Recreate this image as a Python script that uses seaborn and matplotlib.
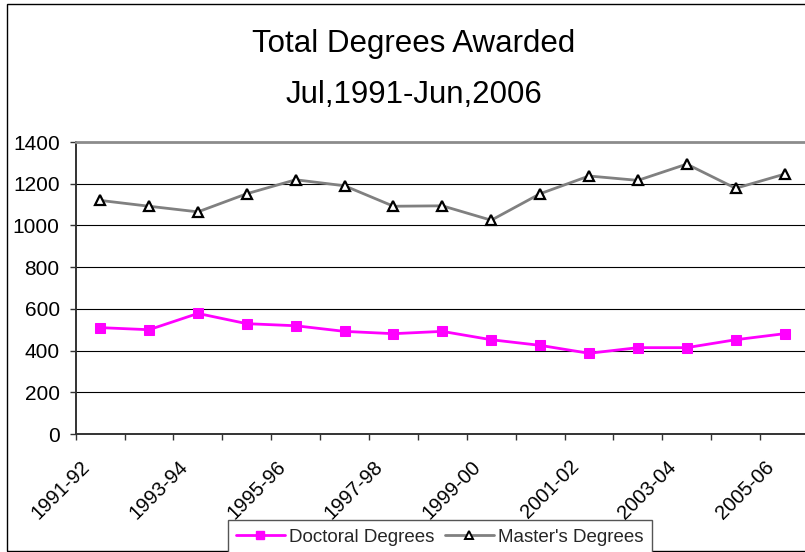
import matplotlib
matplotlib.use("Agg")
import matplotlib.pyplot as plt
from matplotlib.patches import Rectangle
from matplotlib.transforms import ScaledTranslation, blended_transform_factory
from matplotlib.lines import Line2D
import seaborn as sns
import pandas as pd
import numpy as np

# Academic years
years = ["1991-92", "1992-93", "1993-94", "1994-95", "1995-96", "1996-97",
         "1997-98", "1998-99", "1999-00", "2000-01", "2001-02", "2002-03",
         "2003-04", "2004-05", "2005-06"]

# Degrees awarded per year
doctoral = [510, 500, 578, 529, 519, 492, 481, 492, 452, 425, 387, 414, 414, 452, 481]
masters = [1120, 1092, 1065, 1152, 1219, 1190, 1092, 1094, 1025, 1152, 1237, 1216, 1294, 1178, 1246]

y_ticks = [0, 200, 400, 600, 800, 1000, 1200, 1400]
title_lines = ["Total Degrees Awarded", "Jul,1991-Jun,2006"]
series_names = ["Doctoral Degrees", "Master's Degrees"]

sns.set_theme(style="white")
plt.rcParams["font.family"] = ["Liberation Sans", "DejaVu Sans"]

W, H = 805, 552
fig = plt.figure(figsize=(W / 100, H / 100), dpi=100)
fig.patch.set_facecolor("white")

# Outer chart border (runs off the right edge)
fig.patches.append(Rectangle((7 / W, (H - 550.7) / H), 1.2, (550.7 - 3.7) / H,
                             transform=fig.transFigure, fill=False,
                             edgecolor="black", linewidth=1.0, zorder=0))

left, right, top, bottom = 75.7, 809.0, 142.0, 434.0
ax = fig.add_axes([left / W, (H - bottom) / H, (right - left) / W, (bottom - top) / H])
ax.set_facecolor("white")

df = pd.DataFrame({"pos": np.arange(len(years)), "year": years,
                   "doctoral": doctoral, "masters": masters})

sns.lineplot(data=df, x="pos", y="doctoral", ax=ax, color="#FF00FF",
             linewidth=2.0, marker="s", markersize=6.5, markeredgecolor="#FF00FF",
             markerfacecolor="#FF00FF", zorder=4, legend=False)
sns.lineplot(data=df, x="pos", y="masters", ax=ax, color="#808080",
             linewidth=2.0, marker="^", markersize=6.5, markeredgecolor="black",
             markerfacecolor="white", markeredgewidth=1.6, zorder=4, legend=False)

ax.set_xlim(-0.5, len(years) - 0.5)
ax.set_ylim(0, 1400)
ax.set_xlabel("")
ax.set_ylabel("")

# y axis
ax.set_yticks(y_ticks)
ax.set_yticklabels([str(v) for v in y_ticks], fontsize=15, color="black")
ax.yaxis.grid(True, color="black", linewidth=0.8)
ax.set_axisbelow(True)
ax.tick_params(axis="y", which="major", left=True, length=4.5, width=1.0,
               color="#333333", pad=7)

# x axis: marks between categories, labels on every other category
ax.set_xticks(np.arange(len(years) + 1) - 0.5)
ax.set_xticklabels([])
ax.tick_params(axis="x", which="major", bottom=True, length=4.5, width=1.0,
               color="#333333")
label_trans = blended_transform_factory(ax.transData, ax.transAxes) + \
    ScaledTranslation(-20 / 100, -23 / 100, fig.dpi_scale_trans)
for p, yr in zip(df["pos"][::2], df["year"][::2]):
    ax.text(p, 0, yr, transform=label_trans, fontsize=14.5, rotation=45,
            ha="right", va="top", rotation_mode="anchor", color="black",
            clip_on=False)

for s in ["left", "bottom"]:
    ax.spines[s].set_color("#333333")
    ax.spines[s].set_linewidth(1.4)
ax.spines["top"].set_color("#8c8c8c")
ax.spines["top"].set_linewidth(2.0)
ax.spines["right"].set_visible(False)
for s in ax.spines.values():
    s.set_zorder(5)

# Title
cx = 414 / W
fig.text(cx, (H - 51.7) / H, title_lines[0], ha="center", va="baseline",
         fontsize=22.5, color="black")
fig.text(cx, (H - 103) / H, title_lines[1], ha="center", va="baseline",
         fontsize=22.5, color="black")

# Legend
handles = [
    Line2D([], [], color="#FF00FF", linewidth=2.0, marker="s", markersize=6,
           markerfacecolor="#FF00FF", markeredgecolor="#FF00FF"),
    Line2D([], [], color="#808080", linewidth=2.0, marker="^", markersize=6,
           markerfacecolor="white", markeredgecolor="black", markeredgewidth=1.4),
]
leg = fig.legend(handles, series_names, loc="upper left",
                 bbox_to_anchor=(227.5 / W, (H - 520) / H), ncol=2,
                 fontsize=13.5, frameon=True, fancybox=False, shadow=False,
                 framealpha=1, edgecolor="#555555", borderaxespad=0,
                 handlelength=2.6, handletextpad=0.25, columnspacing=0.55,
                 borderpad=0.45)
leg.get_frame().set_linewidth(1.0)

fig.savefig("out.png", dpi=100)
